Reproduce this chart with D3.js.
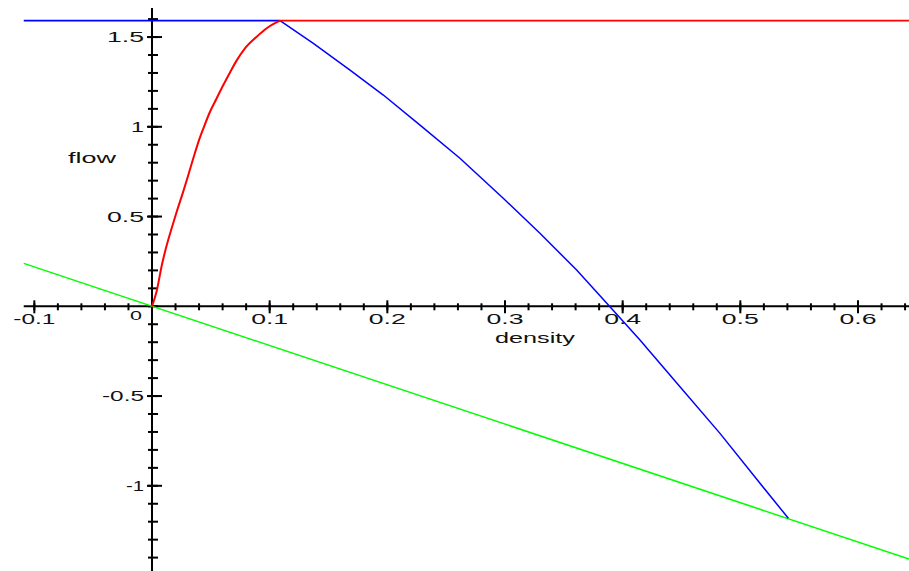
<!DOCTYPE html>
<html>
<head>
<meta charset="utf-8">
<script src="https://cdn.jsdelivr.net/npm/d3@7"></script>
<style>
  body { margin: 0; background: #fff; }
  svg { display: block; }
  .lbl { font-family: "Liberation Sans", Arial, sans-serif; fill: #111; }
</style>
</head>
<body>
<div id="chart"></div>
<script>
// values: density -> flow
var redDensity  = [0, 0.0040, 0.0082, 0.0125, 0.0167, 0.0210, 0.0266, 0.0308, 0.0351, 0.0394, 0.0436, 0.0493, 0.0550, 0.0606, 0.0663, 0.0720, 0.0790, 0.0890, 0.0975, 0.1088];
var redFlow     = [0, 0.085, 0.225, 0.340, 0.435, 0.527, 0.640, 0.730, 0.825, 0.915, 0.990, 1.084, 1.159, 1.233, 1.303, 1.370, 1.437, 1.502, 1.549, 1.591];

var blueDensity = [0.1088, 0.1371, 0.1683, 0.1966, 0.2278, 0.2617, 0.2985, 0.3297, 0.3609, 0.3892, 0.4147, 0.4487, 0.4827, 0.5167, 0.5408];
var blueFlow    = [1.591, 1.465, 1.316, 1.177, 1.009, 0.825, 0.602, 0.407, 0.202, -0.002, -0.188, -0.448, -0.708, -0.986, -1.181];

var capDensity  = [-0.109, 0.1088, 0.6433];   // flat line at max flow
var capFlow     = 1.591;

var greenDensity = [-0.109, 0.6433];
var greenFlow    = [0.239, -1.408];

var xMajor = [-0.1, 0.1, 0.2, 0.3, 0.4, 0.5, 0.6];
var xTickLabels = ["-0.1", "0.1", "0.2", "0.3", "0.4", "0.5", "0.6"];
var yMajor = [-1, -0.5, 0.5, 1, 1.5];
var yTickLabels = ["-1", "-0.5", "0.5", "1", "1.5"];

var width = 909, height = 571;

var svg = d3.select("#chart").append("svg")
  .attr("width", width)
  .attr("height", height);

var x = d3.scaleLinear().domain([0, 0.6]).range([152, 858]);
var y = d3.scaleLinear().domain([0, 1]).range([306.3, 126.8]);

// minor ticks
var xMinor = d3.range(-0.1, 0.6401, 0.02);
var yMinor = d3.range(-1.4, 1.6001, 0.1);

// label width (stretched like the original typeface)
function lblWidth(s) {
  var w = 0;
  for (var i = 0; i < s.length; i++) {
    var c = s[i];
    w += c == "." ? 11 : (c == "-" ? 5 : 13);
  }
  return w;
}

// x axis
var gx = svg.append("g");
gx.append("line")
  .attr("x1", x(-0.109)).attr("x2", width)
  .attr("y1", y(0)).attr("y2", y(0))
  .attr("stroke", "#000").attr("stroke-width", 2);
gx.selectAll(".xminor").data(xMinor).enter().append("line")
  .attr("x1", function(d) { return x(d); }).attr("x2", function(d) { return x(d); })
  .attr("y1", y(0) - 3).attr("y2", y(0) + 4)
  .attr("stroke", "#000").attr("stroke-width", 2);
gx.selectAll(".xmajor").data(xMajor).enter().append("line")
  .attr("x1", function(d) { return x(d); }).attr("x2", function(d) { return x(d); })
  .attr("y1", y(0) - 6).attr("y2", y(0) + 7)
  .attr("stroke", "#000").attr("stroke-width", 2);
gx.selectAll(".xlabel").data(xMajor).enter().append("text")
  .attr("class", "lbl")
  .attr("x", function(d) { return x(d); })
  .attr("y", y(0) + 18)
  .attr("text-anchor", "middle")
  .attr("font-size", 15)
  .attr("textLength", function(d, i) { return lblWidth(xTickLabels[i]); })
  .attr("lengthAdjust", "spacingAndGlyphs")
  .text(function(d, i) { return xTickLabels[i]; });

// origin label
svg.append("text").attr("class", "lbl")
  .attr("x", x(0) - 16).attr("y", y(0) + 14)
  .attr("text-anchor", "middle")
  .attr("font-size", 12)
  .attr("textLength", 12).attr("lengthAdjust", "spacingAndGlyphs")
  .text("0");

// y axis
var gy = svg.append("g");
gy.append("line")
  .attr("x1", x(0)).attr("x2", x(0))
  .attr("y1", 8).attr("y2", height)
  .attr("stroke", "#000").attr("stroke-width", 2);
gy.selectAll(".yminor").data(yMinor).enter().append("line")
  .attr("x1", x(0) - 4).attr("x2", x(0) + 6)
  .attr("y1", function(d) { return y(d); }).attr("y2", function(d) { return y(d); })
  .attr("stroke", "#000").attr("stroke-width", 2);
gy.selectAll(".ymajor").data(yMajor).enter().append("line")
  .attr("x1", x(0) - 5).attr("x2", x(0) + 10)
  .attr("y1", function(d) { return y(d); }).attr("y2", function(d) { return y(d); })
  .attr("stroke", "#000").attr("stroke-width", 2);
gy.selectAll(".ylabel").data(yMajor).enter().append("text")
  .attr("class", "lbl")
  .attr("x", x(0) - 8)
  .attr("y", function(d) { return y(d) + 5; })
  .attr("text-anchor", "end")
  .attr("font-size", 15)
  .attr("textLength", function(d, i) { return lblWidth(yTickLabels[i]); })
  .attr("lengthAdjust", "spacingAndGlyphs")
  .text(function(d, i) { return yTickLabels[i]; });

// axis titles
svg.append("text").attr("class", "lbl")
  .attr("x", 68).attr("y", 163)
  .attr("font-size", 15)
  .attr("textLength", 48).attr("lengthAdjust", "spacingAndGlyphs")
  .text("flow");
svg.append("text").attr("class", "lbl")
  .attr("x", 495).attr("y", 343)
  .attr("font-size", 15)
  .attr("textLength", 80).attr("lengthAdjust", "spacingAndGlyphs")
  .text("density");

var line = d3.line()
  .x(function(d) { return x(d[0]); })
  .y(function(d) { return y(d[1]); });

// green line
svg.append("path")
  .datum(d3.zip(greenDensity, greenFlow))
  .attr("d", line)
  .attr("fill", "none").attr("stroke", "#00ff00").attr("stroke-width", 1.5);

// blue flat + blue decreasing branch
svg.append("path")
  .datum([[capDensity[0], capFlow], [capDensity[1], capFlow]])
  .attr("d", line)
  .attr("fill", "none").attr("stroke", "#0000ff").attr("stroke-width", 1.8);
svg.append("path")
  .datum(d3.zip(blueDensity, blueFlow))
  .attr("d", line)
  .attr("fill", "none").attr("stroke", "#0000ff").attr("stroke-width", 1.5);

// red flat + red increasing branch
svg.append("path")
  .datum([[capDensity[1], capFlow], [capDensity[2], capFlow]])
  .attr("d", line)
  .attr("fill", "none").attr("stroke", "#ff0000").attr("stroke-width", 1.8);
svg.append("path")
  .datum(d3.zip(redDensity, redFlow))
  .attr("d", line.curve(d3.curveMonotoneX))
  .attr("fill", "none").attr("stroke", "#ff0000").attr("stroke-width", 2);
</script>
</body>
</html>
